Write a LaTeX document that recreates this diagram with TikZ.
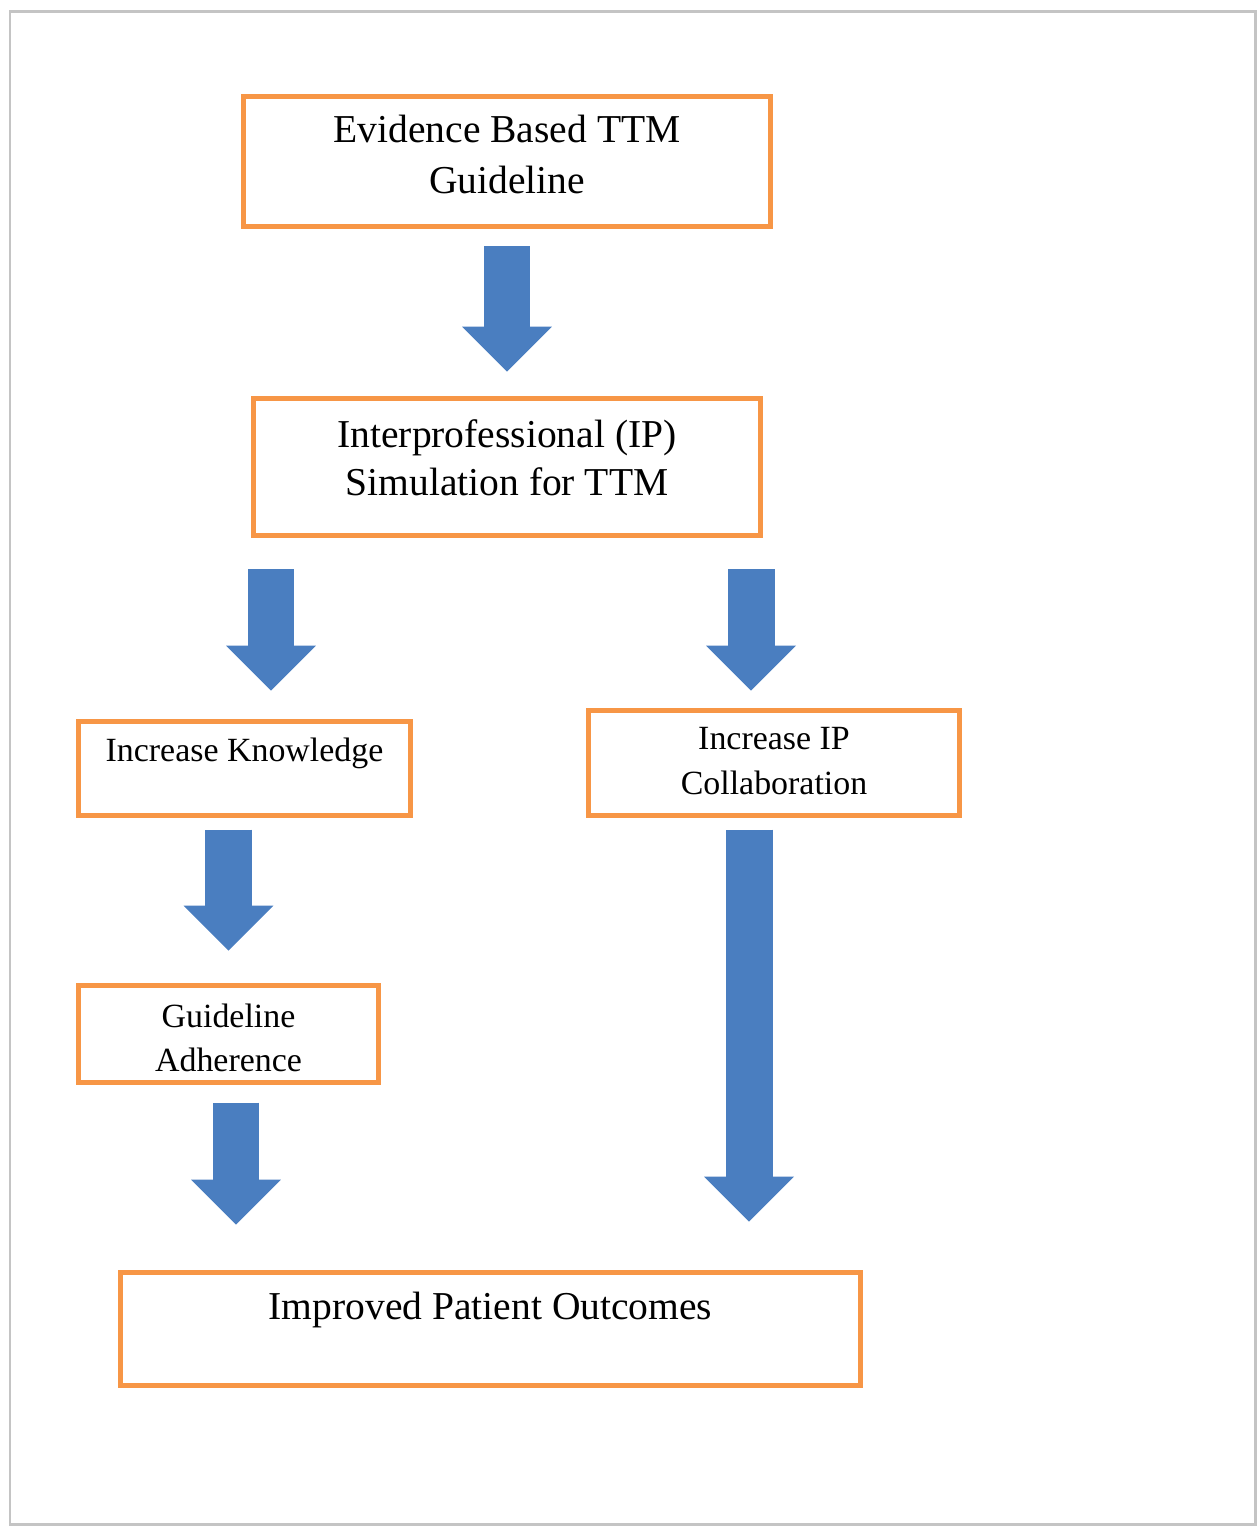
\documentclass[tikz,border=0pt]{standalone}
\usepackage{fontspec}
\setmainfont{Liberation Serif}
\usepackage{tikz}
\usetikzlibrary{arrows.meta}
\definecolor{boxorange}{RGB}{247,150,70}
\definecolor{flowblue}{RGB}{74,126,192}
\definecolor{framegray}{RGB}{196,196,196}
\tikzset{
	box/.style={draw=boxorange, line width=0.1cm, inner sep=0pt},
	lbl/.style={align=center, inner sep=0pt},
	big/.style={font=\fontsize{22.5}{29.5}\selectfont},
	small/.style={font=\fontsize{19.3}{25.3}\selectfont},
	flow/.style={draw=flowblue, line width=0.94cm, -{Triangle[width=1.8cm, length=0.9cm, line width=0pt]}}
}

\begin{document}
\begin{tikzpicture}[x=0.02cm, y=-0.02cm]
	\useasboundingbox (0,0) rectangle (1258,1526);
	\draw[framegray, line width=0.06cm] (10,11) rectangle (1255,1524);

	\node[box, minimum width=10.54cm, minimum height=2.6cm] (ev) at (507,161.5) {};
	\node[box, minimum width=10.14cm, minimum height=2.74cm] (ip) at (507,467) {};
	\node[box, minimum width=6.64cm, minimum height=1.88cm] (kn) at (244.5,768.5) {};
	\node[box, minimum width=7.42cm, minimum height=2.1cm] (co) at (774,763) {};
	\node[box, minimum width=6cm, minimum height=1.94cm] (ad) at (228.5,1034) {};
	\node[box, minimum width=14.8cm, minimum height=2.26cm] (out) at (490.5,1329) {};

	\node[lbl, big] (ev-t) at ([yshift=0.14cm]ev.center) {Evidence Based TTM\\Guideline};
	\node[lbl, big, font=\fontsize{22.5}{27.5}\selectfont] (ip-t) at ([yshift=0.18cm]ip.center) {Interprofessional (IP)\\Simulation for TTM};
	\node[lbl, small] (kn-t) at ([yshift=0.31cm]kn.center) {Increase Knowledge};
	\node[lbl, small] (co-t) at ([yshift=0.04cm]co.center) {Increase IP\\Collaboration};
	\node[lbl, small] (ad-t) at ([yshift=-0.08cm]ad.center) {Guideline\\Adherence};
	\node[lbl, big] (out-t) at ([yshift=0.38cm]out.center) {Improved Patient Outcomes};

	\draw[flow, shorten <=0.35cm, shorten >=0.49cm] (ev.south) -- (ip.north);
	\draw[flow, shorten <=0.63cm, shorten >=0.57cm] ([xshift=0.53cm]ip.south -| kn.north) -- ([xshift=0.53cm]kn.north);
	\draw[flow, shorten <=0.63cm, shorten >=0.35cm] ([xshift=-0.46cm]ip.south -| co.north) -- ([xshift=-0.46cm]co.north);
	\draw[flow, shorten <=0.23cm, shorten >=0.65cm] (kn.south -| ad.north) -- (ad.north);
	\draw[flow, shorten <=0.35cm, shorten >=0.91cm] ([xshift=0.15cm]ad.south) -- ([xshift=0.15cm]ad.south |- out.north);
	\draw[flow, shorten <=0.23cm, shorten >=0.97cm] ([xshift=-0.5cm]co.south) -- ([xshift=-0.5cm]co.south |- out.north);
\end{tikzpicture}
\end{document}
